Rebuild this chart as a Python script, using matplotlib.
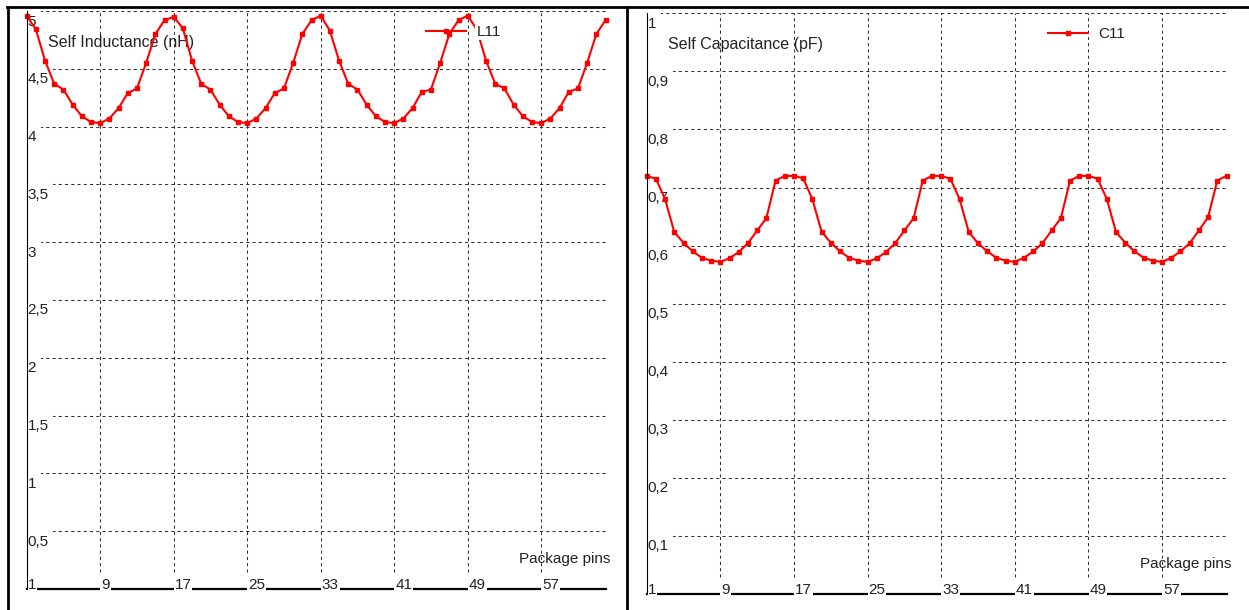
import matplotlib.pyplot as plt
import matplotlib.transforms as mtransforms
from matplotlib.lines import Line2D

pins = list(range(1, 65))
pin_ticks = [1, 9, 17, 25, 33, 41, 49, 57]

l11 = [4.96, 4.84, 4.57, 4.37, 4.32, 4.19, 4.09, 4.04, 4.03, 4.07, 4.16, 4.29, 4.33, 4.55, 4.80, 4.92,
       4.95, 4.85, 4.57, 4.37, 4.32, 4.19, 4.09, 4.04, 4.03, 4.07, 4.16, 4.29, 4.33, 4.55, 4.80, 4.92,
       4.96, 4.83, 4.57, 4.37, 4.32, 4.19, 4.09, 4.04, 4.03, 4.07, 4.16, 4.30, 4.32, 4.55, 4.80, 4.92,
       4.96, 4.84, 4.57, 4.37, 4.33, 4.19, 4.09, 4.04, 4.03, 4.07, 4.16, 4.30, 4.33, 4.55, 4.80, 4.92]

c11 = [0.720, 0.715, 0.680, 0.623, 0.605, 0.590, 0.579, 0.574, 0.572, 0.578, 0.589, 0.604, 0.626, 0.647, 0.712, 0.720,
       0.720, 0.716, 0.680, 0.624, 0.605, 0.590, 0.579, 0.574, 0.572, 0.578, 0.589, 0.604, 0.626, 0.647, 0.712, 0.720,
       0.720, 0.715, 0.680, 0.623, 0.604, 0.590, 0.579, 0.574, 0.572, 0.579, 0.590, 0.604, 0.626, 0.647, 0.712, 0.720,
       0.720, 0.715, 0.680, 0.623, 0.605, 0.590, 0.579, 0.574, 0.572, 0.579, 0.590, 0.604, 0.626, 0.649, 0.712, 0.720]

l_ticks = [0.5, 1, 1.5, 2, 2.5, 3, 3.5, 4, 4.5, 5]
l_tick_labels = ["0,5", "1", "1,5", "2", "2,5", "3", "3,5", "4", "4,5", "5"]
c_ticks = [0.1, 0.2, 0.3, 0.4, 0.5, 0.6, 0.7, 0.8, 0.9, 1.0]
c_tick_labels = ["0,1", "0,2", "0,3", "0,4", "0,5", "0,6", "0,7", "0,8", "0,9", "1"]

plt.rcParams['font.family'] = ['Liberation Sans', 'DejaVu Sans']
TXT = '#222222'
FS = 11


def draw_panel(fig, rect, values, name, title, yticks, ylabels, ymax, legend_xy):
    ax = fig.add_axes(rect)
    ax.set_xlim(1, 64)
    ax.set_ylim(0, ymax)
    ax.axis('off')

    # dashed grid
    grid = dict(color='#333333', lw=0.75, ls=(0, (3, 3)), zorder=1)
    for y in yticks:
        ax.axhline(y, **grid)
    for x in pin_ticks:
        ax.axvline(x, ymin=0.03, ymax=1, **grid)

    # axis lines
    ax.axhline(0, color='black', lw=1.6, zorder=2, clip_on=False)
    ax.axvline(1, color='black', lw=0.8, zorder=6, clip_on=False)

    # y tick labels sit just under their grid line
    off_y = mtransforms.offset_copy(ax.transData, fig=fig, x=1, y=-3.5, units='dots')
    for y, s in zip(yticks, ylabels):
        ax.text(1, y, s, transform=off_y, ha='left', va='top', fontsize=FS, color=TXT,
                zorder=3, bbox=dict(boxstyle='square,pad=0.3', fc='white', ec='none'))

    # x tick labels break the axis line
    off_x = mtransforms.offset_copy(ax.transData, fig=fig, x=1, y=0, units='dots')
    for x in pin_ticks:
        ax.text(x, 0, str(x), transform=off_x, ha='left', va='baseline', fontsize=FS,
                color=TXT, zorder=3,
                bbox=dict(boxstyle='square,pad=0.06', fc='white', ec='none'))

    ax.plot(pins, values, color='#ff0000', lw=1.5, marker='s', ms=3.2,
            zorder=4, clip_on=False, label=name)

    leg = ax.legend(loc='center left', bbox_to_anchor=legend_xy,
                    bbox_transform=fig.transFigure, frameon=False, borderpad=0,
                    borderaxespad=0, handlelength=2.6, handletextpad=0.7,
                    numpoints=1, fontsize=FS)
    leg.set_zorder(5)
    for t in leg.get_texts():
        t.set_color(TXT)
        t.set_bbox(dict(fc='white', ec='none', pad=1))

    ax.text(0.036, 0.946, title, transform=ax.transAxes, ha='left', va='center',
            fontsize=FS + 0.5, color=TXT, zorder=3)
    ax.text(1.008, 0.052, 'Package pins', transform=ax.transAxes, ha='right',
            va='center', fontsize=FS, color=TXT, zorder=3)
    return ax


fig = plt.figure(figsize=(12.49, 6.10), dpi=100)

draw_panel(fig, [26.7 / 1249, 21 / 610, 578.8 / 1249, 578 / 610], l11, 'L11',
           'Self Inductance (nH)', l_ticks, l_tick_labels, 5, (426 / 1249, 1 - 32 / 610))
draw_panel(fig, [646.7 / 1249, 16 / 610, 579.8 / 1249, 580.7 / 610], c11, 'C11',
           'Self Capacitance (pF)', c_ticks, c_tick_labels, 1, (1048 / 1249, 1 - 34 / 610))

# outer frame lines
frame = dict(color='black', lw=2, transform=fig.transFigure)
fig.add_artist(Line2D([7 / 1249, 1], [1 - 7 / 610, 1 - 7 / 610], **frame))
fig.add_artist(Line2D([7.5 / 1249, 7.5 / 1249], [0, 1 - 7 / 610], **frame))
fig.add_artist(Line2D([627 / 1249, 627 / 1249], [0, 1 - 7 / 610], **frame))

fig.savefig('out.png', dpi=100)
